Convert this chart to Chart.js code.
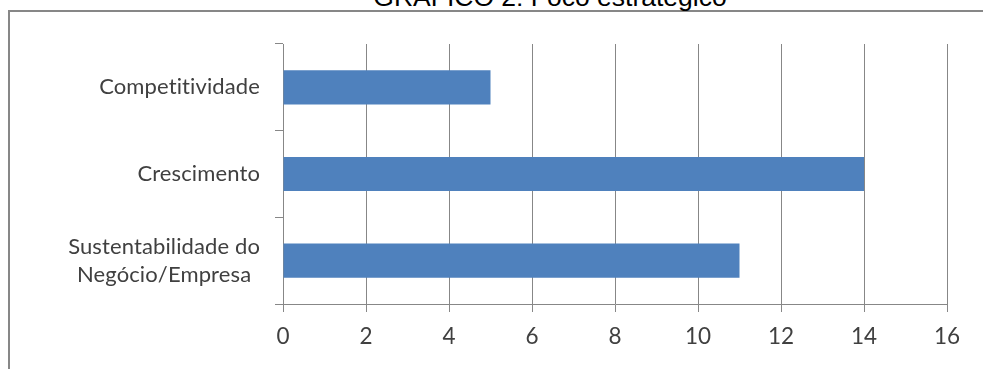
<!DOCTYPE html>
<html>
<head>
<meta charset="utf-8">
<script src="https://cdn.jsdelivr.net/npm/chart.js@4/dist/chart.umd.min.js"></script>
<style>
  html, body { margin: 0; padding: 0; background: #ffffff; overflow: hidden; }
  body { width: 983px; height: 369px; position: relative; }
  #frame {
    position: absolute; left: 8px; top: 10px;
    width: 1100px; height: 500px;
    border: 2px solid #878787; box-sizing: border-box;
  }
  #title {
    position: absolute; left: 0; top: -18px; width: 1100px;
    text-align: center; font-family: "Liberation Sans", Arial, sans-serif;
    font-size: 26.5px; line-height: 30px; color: #000000; white-space: nowrap;
  }
  #wrap { position: absolute; left: 0; top: 0; width: 983px; height: 369px; }
</style>
</head>
<body>
<div id="frame"></div>
<div id="title">GRÁFICO 2: Foco estratégico</div>
<div id="wrap"><canvas id="chart" width="983" height="369"></canvas></div>
<script>
// Strategic focus: number of responses per category
const categories = [
  ['Competitividade'],
  ['Crescimento'],
  ['Sustentabilidade do', 'Negócio/Empresa']
];
const responses = [5, 14, 11];
const axisTicks = [0, 2, 4, 6, 8, 10, 12, 14, 16];

const LABEL_FONT = '22px Lato';
const LABEL_COLOR = '#404040';
const LINE_COLOR = '#878787';

// Category labels: each block right-aligned, lines centred within the block
const categoryLabels = {
  id: 'categoryLabels',
  afterDraw(chart) {
    const y = chart.scales.y;
    const ctx = chart.ctx;
    const right = chart.chartArea.left - 23;
    const lineH = 28.3;
    ctx.save();
    ctx.font = LABEL_FONT;
    // a tiny letter spacing keeps "ti" from being drawn as a ligature
    ctx.letterSpacing = '0.12px';
    ctx.fillStyle = LABEL_COLOR;
    ctx.textAlign = 'center';
    ctx.textBaseline = 'middle';
    categories.forEach((lines, i) => {
      const widest = Math.max(...lines.map(l => ctx.measureText(l).width));
      const cx = right - widest / 2;
      const cy = y.getPixelForValue(i);
      const start = cy - (lines.length - 1) * lineH / 2;
      lines.forEach((l, k) => ctx.fillText(l, cx, start + k * lineH));
    });
    ctx.restore();
  }
};

new Chart(document.getElementById('chart'), {
  type: 'bar',
  data: {
    labels: categories,
    datasets: [{
      data: responses,
      backgroundColor: '#4F81BD',
      borderWidth: 0,
      barPercentage: 0.395,
      categoryPercentage: 1
    }]
  },
  options: {
    indexAxis: 'y',
    responsive: false,
    animation: false,
    layout: { padding: { left: 0, top: 44, right: 36, bottom: 0 } },
    plugins: { legend: { display: false }, tooltip: { enabled: false }, title: { display: false } },
    scales: {
      x: {
        type: 'linear',
        min: axisTicks[0],
        max: axisTicks[axisTicks.length - 1],
        afterBuildTicks(scale) { scale.ticks = axisTicks.map(v => ({ value: v })); },
        afterFit(scale) { scale.height = 65; },
        ticks: { font: { family: 'Lato', size: 22.5 }, color: LABEL_COLOR, padding: 11, maxRotation: 0 },
        grid: { color: LINE_COLOR, tickLength: 8, lineWidth: 1 },
        border: { color: LINE_COLOR, width: 1 }
      },
      y: {
        type: 'category',
        offset: true,
        afterFit(scale) { scale.width = 283; },
        ticks: { display: false },
        grid: { offset: true, drawOnChartArea: false, color: LINE_COLOR, tickLength: 8 },
        border: { color: LINE_COLOR, width: 1 }
      }
    }
  },
  plugins: [categoryLabels]
});
</script>
</body>
</html>
